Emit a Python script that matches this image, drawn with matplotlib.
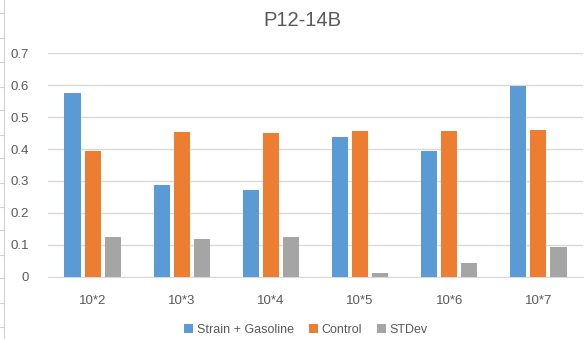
import numpy as np
import matplotlib
matplotlib.use("Agg")
import matplotlib.pyplot as plt
from matplotlib.lines import Line2D

# ── 数据 ──
categories = ["10*2", "10*3", "10*4", "10*5", "10*6", "10*7"]
strain_gasoline = [0.575, 0.286, 0.271, 0.439, 0.395, 0.599]
control = [0.395, 0.454, 0.449, 0.455, 0.458, 0.461]
stdev = [0.125, 0.118, 0.125, 0.0125, 0.044, 0.094]
yticks = [0, 0.1, 0.2, 0.3, 0.4, 0.5, 0.6, 0.7]

TEXT = "#595959"
GRID = "#D9D9D9"
plt.rcParams['font.family'] = ['Liberation Sans', 'DejaVu Sans']

fig = plt.figure(figsize=(5.87, 3.39), dpi=100)
ax = fig.add_axes([48 / 587, 62.3 / 339, 535 / 587, (276.7 - 53.3) / 339])

x = np.arange(len(categories))
w = 0.18
off = 0.225
ax.bar(x - off, strain_gasoline, w, color="#5B9BD5", label="Strain + Gasoline", zorder=3)
ax.bar(x, control, w, color="#ED7D31", label="Control", zorder=3)
ax.bar(x + off, stdev, w, color="#A5A5A5", label="STDev", zorder=3)

ax.set_xlim(-0.5, len(categories) - 0.5)
ax.set_ylim(0, 0.7)
ax.set_yticks(yticks)
ax.set_yticklabels([f"{v:g}" for v in yticks])
ax.set_xticks(x)
ax.set_xticklabels(categories)
ax.yaxis.grid(True, color=GRID, linewidth=1, zorder=0)
for s in ["top", "right", "left"]:
    ax.spines[s].set_visible(False)
ax.spines["bottom"].set_color(GRID)
ax.tick_params(axis="both", length=0, colors=TEXT, labelsize=9.5)
ax.tick_params(axis="y", pad=14)
ax.tick_params(axis="x", pad=13)

fig.text(302 / 587, 1 - 20 / 339, "P12-14B", ha="center", va="center",
         fontsize=14.5, color=TEXT)

fig.legend(loc="center", bbox_to_anchor=(306 / 587, 9 / 339), ncol=3,
           frameon=False, fontsize=9, handlelength=0.7, handleheight=0.7,
           handletextpad=0.3, columnspacing=1.2, labelcolor=TEXT)

# 左侧的表格边线
fig.add_artist(Line2D([4 / 587, 4 / 587], [0, 1], color="#D0D0D0", linewidth=0.8))
for yy in [13, 38, 62, 87, 110, 135, 158, 183, 207, 230, 255, 278, 303, 327]:
    fig.add_artist(Line2D([0, 4 / 587], [1 - yy / 339] * 2, color="#D0D0D0", linewidth=0.8))

fig.savefig("out.png", dpi=100)
